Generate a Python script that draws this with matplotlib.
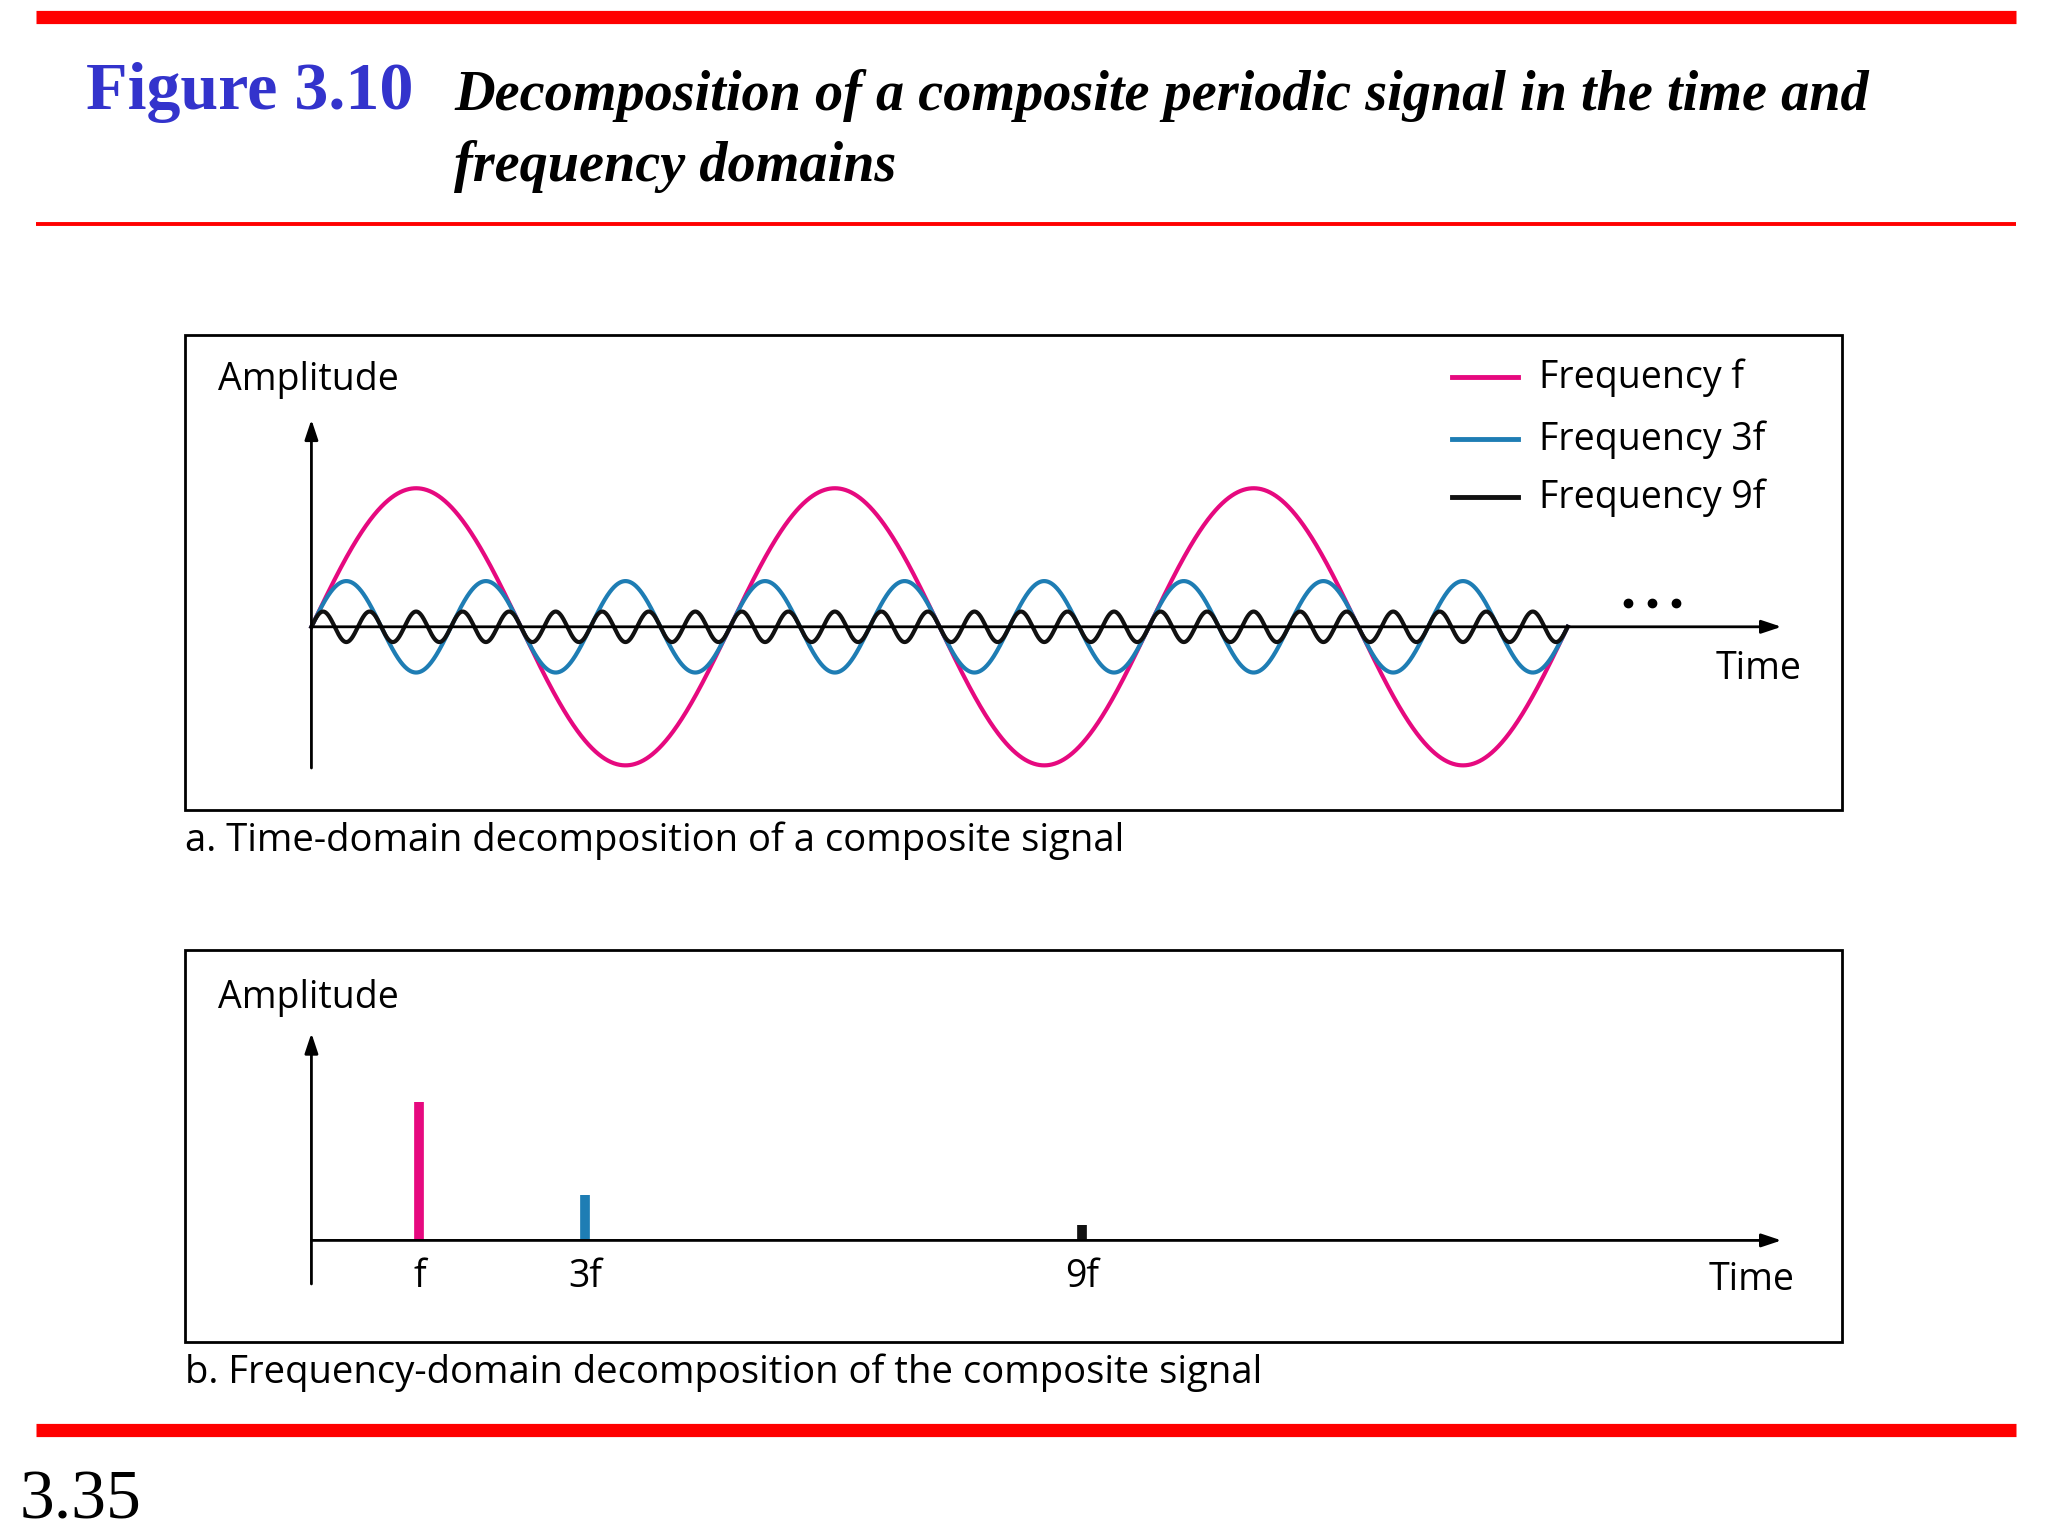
import numpy as np
import matplotlib
matplotlib.use("Agg")
import matplotlib.pyplot as plt
from matplotlib.patches import Rectangle

# ---- data ----
labels = ["f", "3f", "9f"]
freqs = [1, 3, 9]
amps = [1.0, 0.33, 0.11]
legend_labels = ["Frequency f", "Frequency 3f", "Frequency 9f"]
colors = ["#E6097F", "#1E7DB4", "#111111"]
n_periods = 3

fig = plt.figure(figsize=(20.48, 15.36), dpi=100)
ax = fig.add_axes([0, 0, 1, 1])
ax.set_xlim(0, 1552); ax.set_ylim(1164, 0); ax.axis("off")

sans = "Open Sans"
serif = "Liberation Serif"
fs = 27

# header / footer rules
ax.plot([27, 1528], [13, 13], color="#FF0000", lw=9.5, solid_capstyle="butt")
ax.plot([27, 1528], [170, 170], color="#FF0000", lw=2.8, solid_capstyle="butt")
ax.plot([27, 1528], [1084, 1084], color="#FF0000", lw=9.5, solid_capstyle="butt")
ax.text(65, 70, "Figure 3.10", family=serif, weight="bold", color="#3333CC", fontsize=49, va="center")
ax.text(344, 72, "Decomposition of a composite periodic signal in the time and",
        family=serif, weight="bold", style="italic", fontsize=40.5, va="center")
ax.text(344, 126, "frequency domains", family=serif, weight="bold", style="italic", fontsize=40.5, va="center")
ax.text(15, 1138, "3.35", family=serif, fontsize=50, va="center")

# panel boxes
for y0, y1 in [(254, 614), (720, 1017)]:
    ax.add_patch(Rectangle((140, y0), 1256, y1 - y0, fill=False, lw=2, ec="black"))

ax.text(140, 637, "a. Time-domain decomposition of a composite signal", family=sans, fontsize=27.5, va="center")
ax.text(140, 1040, "b. Frequency-domain decomposition of the composite signal", family=sans, fontsize=27.5, va="center")

arrow = dict(arrowstyle="-|>,head_length=1.2,head_width=0.4", lw=2, color="black", shrinkA=0, shrinkB=0)

# ---- panel a: time domain ----
x0, x1, ybase, ascale = 236, 1188, 475, 105
ax.annotate("", xy=(236, 318), xytext=(236, 582), arrowprops=arrow)
ax.annotate("", xy=(1350, ybase), xytext=(236, ybase), arrowprops=arrow)
ax.text(165, 288, "Amplitude", family=sans, fontsize=fs, va="center")
ax.text(1300, 507, "Time", family=sans, fontsize=fs, va="center")
for dx in (-18, 0, 18):
    ax.plot([1252 + dx], [457], "o", color="black", ms=6)

t = np.linspace(0, n_periods, 3000)
xs = x0 + (x1 - x0) * t / n_periods
for f, a, c, lab, ly in zip(freqs, amps, colors, legend_labels, [286, 333, 377]):
    ax.plot(xs, ybase - ascale * a * np.sin(2 * np.pi * f * t), color=c, lw=3)
    ax.plot([1100, 1150], [ly, ly], color=c, lw=3.5)
    ax.text(1166, ly, lab, family=sans, fontsize=fs, va="center")

# ---- panel b: frequency domain ----
ybase_b, fx0, fscale = 940, 255, 62.8
ax.annotate("", xy=(236, 783), xytext=(236, 973), arrowprops=arrow)
ax.annotate("", xy=(1350, ybase_b), xytext=(236, ybase_b), arrowprops=arrow)
ax.text(165, 756, "Amplitude", family=sans, fontsize=fs, va="center")
ax.text(1295, 970, "Time", family=sans, fontsize=fs, va="center")
for f, a, c, lab in zip(freqs, amps, colors, labels):
    xf = fx0 + fscale * f
    ax.plot([xf, xf], [ybase_b, ybase_b - ascale * a], color=c, lw=7, solid_capstyle="butt")
    ax.text(xf, 968, lab, family=sans, fontsize=fs, ha="center", va="center")

fig.savefig("out.png", dpi=100)
